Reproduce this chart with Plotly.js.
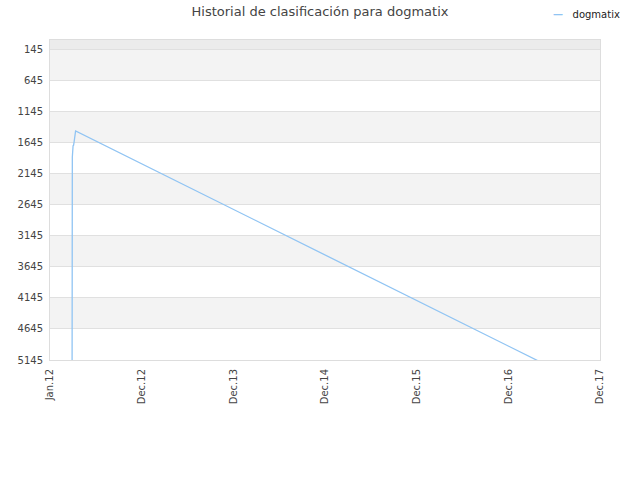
<!DOCTYPE html>
<html>
<head>
<meta charset="utf-8">
<script src="https://cdn.plot.ly/plotly-3.0.1.min.js"></script>
<style>
  body { margin: 0; }
  #chart { width: 640px; height: 480px; }
</style>
</head>
<body>
<div id="chart"></div>
<script>
// ranking history
var fechas = ["2012-03-28", "2012-03-29", "2012-03-30", "2012-04-02", "2012-04-04", "2012-04-06", "2012-04-09", "2012-04-12", "2017-07-24"];
var puestos = [9000, 1900, 1880, 1700, 1690, 1640, 1520, 1463, 5330];
var nombre = "dogmatix";

var yTicks = [145, 645, 1145, 1645, 2145, 2645, 3145, 3645, 4145, 4645, 5145];
var xTicks = ["2012-01-01", "2013-01-01", "2014-01-01", "2015-01-01", "2016-01-01", "2017-01-01", "2018-01-01"];
var xLabels = ["Jan.12", "Dec.12", "Dec.13", "Dec.14", "Dec.15", "Dec.16", "Dec.17"];

var colorLinea = "#90c4f3";

// alternating grey bands
var bands = [{
  type: "rect", xref: "paper", yref: "y", x0: 0, x1: 1, y0: 0, y1: yTicks[0],
  fillcolor: "#ececec", line: { width: 0 }, layer: "below"
}];
for (var i = 0; i < yTicks.length - 1; i += 2) {
  bands.push({
    type: "rect", xref: "paper", yref: "y", x0: 0, x1: 1,
    y0: yTicks[i], y1: yTicks[i + 1],
    fillcolor: "#f3f3f3", line: { width: 0 }, layer: "below"
  });
}

var trace = {
  x: fechas,
  y: puestos,
  type: "scatter",
  mode: "lines",
  name: nombre,
  line: { color: colorLinea, width: 1.3 }
};

var layout = {
  width: 640,
  height: 480,
  margin: { l: 50, r: 40, t: 40, b: 120 },
  paper_bgcolor: "#ffffff",
  plot_bgcolor: "#ffffff",
  font: { family: "DejaVu Sans, sans-serif", size: 10, color: "#444" },
  title: {
    text: "Historial de clasificación para " + nombre,
    font: { size: 13, color: "#444" },
    x: 0.5, xanchor: "center", y: 0.985, yanchor: "top"
  },
  showlegend: false,
  // small legend drawn as text, top right
  annotations: [{
    xref: "paper", yref: "paper", x: 1.04, y: 1.081,
    xanchor: "right", yanchor: "middle",
    text: '<b><span style="color:' + colorLinea + '">—</span></b>   ' + nombre,
    showarrow: false,
    font: { size: 10, color: "#222" }
  }],
  xaxis: {
    type: "date",
    range: ["2012-01-01", "2018-01-01"],
    tickvals: xTicks,
    ticktext: xLabels,
    tickangle: -90,
    showgrid: false,
    zeroline: false,
    showline: true,
    linecolor: "#dddddd",
    mirror: true,
    ticks: "outside",
    ticklen: 4,
    tickcolor: "#ffffff",
    fixedrange: true
  },
  yaxis: {
    range: [5145, 0],
    tickvals: yTicks,
    ticktext: yTicks.map(String),
    showgrid: true,
    gridcolor: "#e0e0e0",
    zeroline: false,
    showline: true,
    linecolor: "#dddddd",
    mirror: true,
    ticks: "outside",
    ticklen: 4,
    tickcolor: "#ffffff"
  },
  shapes: bands
};

Plotly.newPlot("chart", [trace], layout, { displayModeBar: false, staticPlot: true });
</script>
</body>
</html>
